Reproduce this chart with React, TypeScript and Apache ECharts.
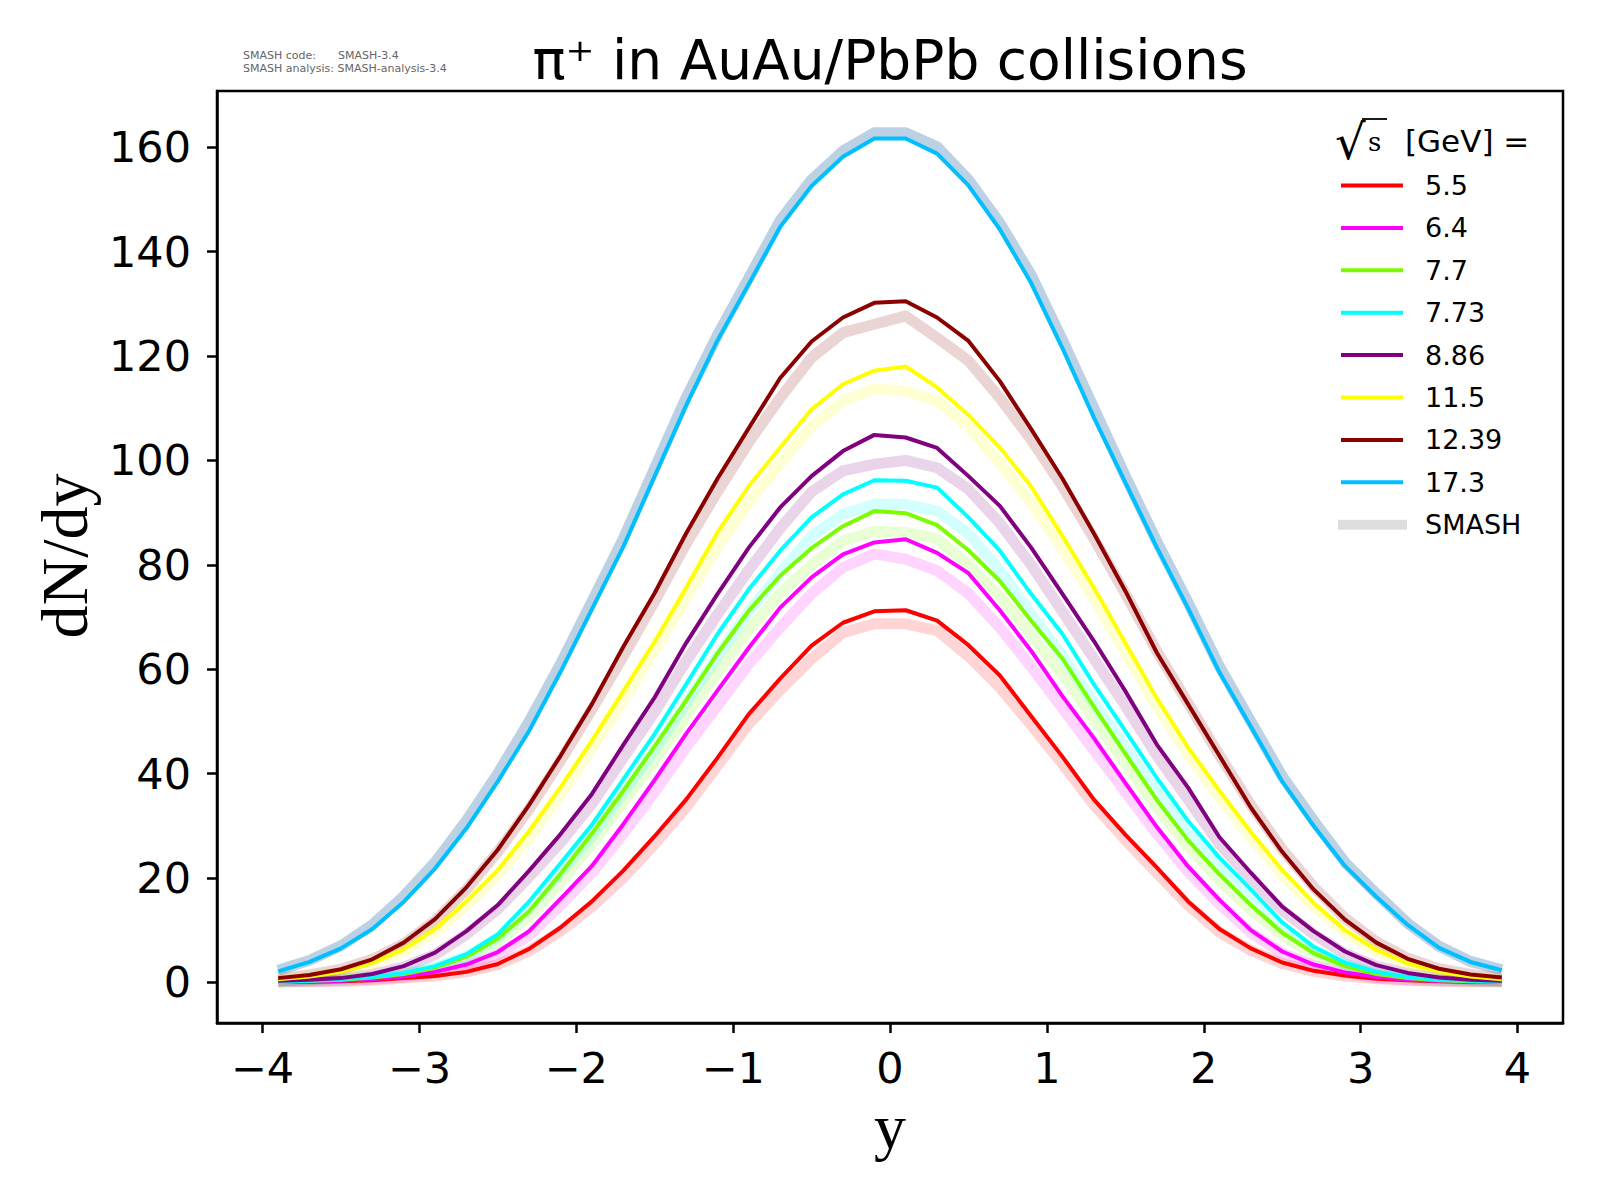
import React, { useEffect, useRef } from "react";
import * as echarts from "echarts";

// rapidity bin centres
const rapidity = [
  -3.9, -3.7, -3.5, -3.3, -3.1, -2.9, -2.7, -2.5, -2.3, -2.1,
  -1.9, -1.7, -1.5, -1.3, -1.1, -0.9, -0.7, -0.5, -0.3, -0.1,
  0.1, 0.3, 0.5, 0.7, 0.9, 1.1, 1.3, 1.5, 1.7, 1.9,
  2.1, 2.3, 2.5, 2.7, 2.9, 3.1, 3.3, 3.5, 3.7, 3.9,
];

const energies = ["5.5", "6.4", "7.7", "7.73", "8.86", "11.5", "12.39", "17.3"];
const lineColors = ["#ff0000", "#ff00ff", "#7cfc00", "#00ffff", "#800080", "#ffff00", "#8b0000", "#00bfff"];
const bandColors = [
  "rgba(255,0,0,0.17)",
  "rgba(255,0,255,0.17)",
  "rgba(124,252,0,0.17)",
  "rgba(0,255,255,0.17)",
  "rgba(128,0,128,0.17)",
  "rgba(255,255,0,0.17)",
  "rgba(139,0,0,0.17)",
  "rgba(70,130,180,0.36)",
];

// experimental dN/dy
const data55 = [
  0.1, 0.1, 0.2, 0.4, 0.8, 1.2, 2.0, 3.5, 6.4, 10.5,
  15.5, 21.4, 28.0, 35.0, 43.0, 51.4, 58.2, 64.5, 68.9, 71.1,
  71.3, 69.3, 64.6, 58.8, 51.0, 43.2, 35.0, 28.3, 22.0, 15.5,
  10.2, 6.5, 3.8, 2.2, 1.3, 0.7, 0.4, 0.2, 0.1, 0.1,
];
const data64 = [
  0.1, 0.2, 0.3, 0.6, 1.1, 2.0, 3.4, 5.8, 9.8, 16.0,
  22.3, 30.3, 38.8, 47.6, 55.9, 64.1, 71.8, 77.6, 82.0, 84.3,
  84.9, 82.3, 78.4, 71.3, 63.5, 54.8, 46.8, 38.2, 29.8, 22.2,
  15.8, 10.0, 5.9, 3.4, 1.9, 1.0, 0.5, 0.3, 0.2, 0.1,
];
const data77 = [
  0.1, 0.3, 0.5, 0.9, 1.6, 2.8, 4.9, 8.4, 13.6, 20.8,
  28.5, 36.7, 45.2, 54.0, 63.0, 71.2, 77.9, 83.2, 87.4, 90.3,
  89.9, 87.6, 82.8, 76.9, 69.3, 62.0, 52.8, 43.8, 35.0, 27.2,
  20.7, 14.8, 9.5, 5.6, 3.1, 1.6, 0.8, 0.4, 0.2, 0.1,
];
const data773 = [
  0.1, 0.3, 0.6, 1.0, 1.8, 3.1, 5.4, 9.2, 15.5, 22.8,
  30.2, 38.9, 47.6, 57.1, 66.7, 75.3, 82.7, 89.1, 93.5, 96.2,
  96.1, 94.8, 89.1, 82.7, 74.4, 66.7, 57.1, 48.2, 39.2, 30.9,
  23.9, 17.8, 11.5, 6.8, 3.8, 2.0, 1.0, 0.5, 0.3, 0.2,
];
const data886 = [
  0.3, 0.5, 0.8, 1.6, 3.1, 5.7, 9.8, 14.8, 21.4, 28.4,
  36.1, 45.5, 54.6, 65.0, 74.4, 83.3, 91.0, 97.0, 101.8, 104.9,
  104.4, 102.4, 97.0, 91.3, 83.3, 74.4, 65.4, 55.8, 45.6, 37.3,
  27.8, 21.0, 14.5, 9.8, 5.9, 3.3, 1.8, 0.9, 0.5, 0.3,
];
const data115 = [
  0.6, 1.1, 2.0, 3.7, 6.3, 10.2, 15.5, 21.5, 29.0, 37.4,
  46.3, 55.8, 65.3, 75.6, 86.2, 95.1, 102.5, 109.8, 114.6, 117.2,
  118.0, 114.0, 108.7, 102.5, 95.0, 85.5, 75.6, 65.0, 54.5, 45.0,
  36.7, 28.8, 21.5, 15.2, 10.0, 6.2, 3.6, 2.0, 1.1, 0.6,
];
const data1239 = [
  0.8, 1.4, 2.5, 4.4, 7.6, 12.1, 18.2, 25.4, 34.0, 43.4,
  53.3, 64.3, 74.6, 86.0, 96.5, 106.2, 115.8, 122.8, 127.4, 130.2,
  130.5, 127.4, 122.9, 115.2, 106.0, 96.5, 86.0, 75.0, 63.2, 53.3,
  43.4, 33.5, 25.0, 17.8, 12.0, 7.6, 4.5, 2.6, 1.5, 0.9,
];
const data173 = [
  2.1, 3.9, 6.5, 10.2, 15.4, 21.8, 29.5, 38.5, 48.2, 59.5,
  71.5, 83.5, 97.0, 110.5, 123.0, 133.8, 144.8, 152.6, 158.2, 161.7,
  161.7, 158.8, 152.7, 144.3, 134.0, 121.5, 108.2, 95.8, 83.4, 71.7,
  59.4, 49.0, 38.5, 30.0, 22.3, 16.4, 11.0, 6.6, 3.9, 2.3,
];

// SMASH model dN/dy
const smash55 = [
  0.1, 0.1, 0.2, 0.4, 0.8, 1.2, 2.0, 3.4, 6.0, 9.8,
  14.5, 20.0, 26.5, 33.5, 41.5, 49.5, 56.0, 62.0, 67.0, 68.7,
  68.7, 67.4, 62.5, 56.5, 49.3, 41.8, 34.0, 27.3, 21.0, 14.8,
  9.6, 6.1, 3.6, 2.1, 1.2, 0.7, 0.4, 0.2, 0.1, 0.1,
];
const smash64 = [
  0.1, 0.2, 0.3, 0.6, 1.0, 1.8, 3.1, 5.3, 9.0, 14.8,
  21.0, 28.5, 36.5, 45.0, 53.0, 61.0, 68.0, 74.5, 79.5, 82.1,
  81.1, 78.9, 74.5, 68.0, 60.5, 52.5, 44.5, 36.5, 28.5, 21.2,
  15.0, 9.5, 5.6, 3.2, 1.8, 0.9, 0.5, 0.3, 0.2, 0.1,
];
const smash77 = [
  0.1, 0.3, 0.5, 0.9, 1.5, 2.6, 4.5, 7.8, 12.6, 19.2,
  26.5, 34.5, 42.5, 51.0, 59.5, 67.5, 74.5, 80.0, 84.6, 86.4,
  86.2, 85.0, 80.0, 74.0, 66.5, 59.0, 50.5, 42.0, 33.5, 26.0,
  19.5, 13.9, 9.0, 5.3, 3.0, 1.5, 0.8, 0.4, 0.2, 0.1,
];
const smash773 = [
  0.1, 0.3, 0.6, 1.0, 1.7, 2.9, 5.0, 8.5, 14.2, 21.0,
  28.0, 36.3, 44.5, 53.5, 62.5, 71.0, 78.5, 85.5, 89.7, 91.6,
  91.6, 90.3, 86.0, 79.0, 70.5, 62.5, 53.5, 45.0, 36.5, 28.5,
  22.0, 16.2, 10.6, 6.3, 3.5, 1.9, 1.0, 0.5, 0.3, 0.2,
];
const smash886 = [
  0.3, 0.5, 0.8, 1.5, 2.9, 5.3, 9.2, 14.0, 20.2, 26.8,
  34.2, 43.0, 51.8, 61.5, 70.5, 79.0, 87.0, 94.0, 98.0, 99.3,
  100.0, 98.6, 94.5, 88.0, 80.0, 71.0, 62.0, 53.0, 43.5, 35.0,
  26.5, 19.8, 13.8, 9.2, 5.5, 3.1, 1.7, 0.9, 0.5, 0.3,
];
const smash115 = [
  0.6, 1.1, 1.9, 3.5, 6.0, 9.7, 14.8, 20.6, 27.8, 36.0,
  44.8, 54.0, 63.6, 73.5, 83.5, 92.0, 99.5, 106.5, 111.4, 113.7,
  113.3, 111.4, 106.5, 99.5, 92.0, 83.0, 73.5, 63.2, 53.0, 43.7,
  35.5, 27.7, 20.6, 14.6, 9.6, 6.0, 3.5, 1.9, 1.1, 0.6,
];
const smash1239 = [
  0.8, 1.4, 2.5, 4.4, 7.4, 11.8, 17.8, 25.0, 33.2, 42.5,
  52.3, 62.5, 73.0, 84.0, 94.0, 103.5, 112.0, 119.7, 124.5, 126.1,
  127.7, 123.5, 119.1, 112.0, 104.0, 95.0, 85.0, 74.5, 63.5, 53.5,
  43.5, 34.0, 25.5, 18.3, 12.3, 7.8, 4.6, 2.6, 1.5, 0.9,
];
const smash173 = [
  2.3, 4.2, 7.0, 11.0, 16.5, 23.0, 31.0, 40.0, 50.0, 61.0,
  73.0, 85.0, 98.5, 112.0, 124.0, 135.0, 146.0, 153.8, 159.3, 162.8,
  162.8, 160.1, 153.8, 145.5, 135.5, 123.0, 110.0, 97.0, 84.5, 72.8,
  60.5, 50.0, 39.5, 31.0, 23.0, 17.0, 11.3, 6.9, 4.0, 2.4,
];

const dataSets = [data55, data64, data77, data773, data886, data115, data1239, data173];
const smashSets = [smash55, smash64, smash77, smash773, smash886, smash115, smash1239, smash173];

const xTicks = [-4, -3, -2, -1, 0, 1, 2, 3, 4];
const yTicks = [0, 20, 40, 60, 80, 100, 120, 140, 160];

const titleText = "π⁺ in AuAu/PbPb collisions";
const xName = "y";
const yName = "dN/dy";
const smashInfo1a = "SMASH code:";
const smashInfo1b = "SMASH-3.4";
const smashInfo2 = "SMASH analysis: SMASH-analysis-3.4";
const legendModel = "SMASH";

const fmt = (v: number) => (v < 0 ? "\u2212" + Math.abs(v) : String(v));

export default function App() {
  const ref = useRef<HTMLDivElement>(null);

  useEffect(() => {
    if (!ref.current) return;
    const chart = echarts.init(ref.current, null, { renderer: "svg" });

    const pairs = (vals: number[]) => rapidity.map((x, i) => [x, vals[i]]);

    const bandSeries = smashSets.map((vals, i) => ({
      type: "line",
      name: "SMASH " + energies[i],
      data: pairs(vals),
      showSymbol: false,
      symbol: "none",
      silent: true,
      z: 2,
      lineStyle: { color: bandColors[i], width: 11, join: "round", cap: "butt" },
    }));
    const lineSeries = dataSets.map((vals, i) => ({
      type: "line",
      name: energies[i],
      data: pairs(vals),
      showSymbol: false,
      symbol: "none",
      silent: true,
      z: 3,
      lineStyle: { color: lineColors[i], width: 4, join: "round", cap: "butt" },
    }));

    const legendX0 = 1341;
    const legendX1 = 1403;
    const legendTextX = 1425;
    const rowY0 = 185.5;
    const rowStep = 42.4;

    const legendItems: any[] = [];
    energies.forEach((e, i) => {
      const y = rowY0 + rowStep * i;
      legendItems.push({
        type: "line",
        shape: { x1: legendX0, y1: y, x2: legendX1, y2: y },
        style: { stroke: lineColors[i], lineWidth: 4 },
      });
      legendItems.push({
        type: "text",
        x: legendTextX,
        y,
        style: {
          text: e,
          fontSize: 27,
          fontFamily: "DejaVu Sans",
          fill: "#000",
          align: "left",
          verticalAlign: "middle",
        },
      });
    });
    const smashRowY = rowY0 + rowStep * energies.length;
    legendItems.push({
      type: "rect",
      shape: { x: 1338, y: smashRowY - 5, width: 69, height: 10 },
      style: { fill: "#dedede" },
    });
    legendItems.push({
      type: "text",
      x: legendTextX,
      y: smashRowY,
      style: {
        text: legendModel,
        fontSize: 27,
        fontFamily: "DejaVu Sans",
        fill: "#000",
        align: "left",
        verticalAlign: "middle",
      },
    });
    // legend header: sqrt(s) [GeV] =
    legendItems.push({
      type: "text",
      x: 1335,
      y: 142,
      style: {
        text: "√",
        fontSize: 48,
        fontFamily: "DejaVu Serif",
        fill: "#000",
        align: "left",
        verticalAlign: "middle",
      },
    });
    legendItems.push({
      type: "line",
      shape: { x1: 1362, y1: 119, x2: 1387, y2: 119 },
      style: { stroke: "#000", lineWidth: 1.8 },
    });
    legendItems.push({
      type: "text",
      x: 1368,
      y: 142,
      style: {
        text: "s",
        fontSize: 26,
        fontFamily: "DejaVu Serif",
        fill: "#000",
        align: "left",
        verticalAlign: "middle",
      },
    });
    legendItems.push({
      type: "text",
      x: 1405,
      y: 141,
      style: {
        text: "[GeV] =",
        fontSize: 31,
        fontFamily: "DejaVu Sans",
        fill: "#000",
        align: "left",
        verticalAlign: "middle",
      },
    });

    const option: any = {
      animation: false,
      backgroundColor: "#ffffff",
      grid: {
        left: 217,
        top: 91,
        width: 1346,
        height: 932,
        show: true,
        borderColor: "#000",
        borderWidth: 2.5,
        backgroundColor: "transparent",
      },
      xAxis: {
        type: "value",
        min: -4.29,
        max: 4.29,
        splitLine: { show: false },
        axisLine: { show: true, onZero: false, lineStyle: { color: "#000", width: 2.5 } },
        axisTick: {
          show: true,
          inside: false,
          length: 10,
          customValues: xTicks,
          lineStyle: { color: "#000", width: 2.5 },
        },
        axisLabel: {
          customValues: xTicks,
          formatter: (v: number) => fmt(v),
          fontSize: 43,
          fontFamily: "DejaVu Sans",
          color: "#000",
          margin: 23,
        },
      },
      yAxis: {
        type: "value",
        min: -7.8,
        max: 170.8,
        splitLine: { show: false },
        axisLine: { show: true, onZero: false, lineStyle: { color: "#000", width: 2.5 } },
        axisTick: {
          show: true,
          inside: false,
          length: 10,
          customValues: yTicks,
          lineStyle: { color: "#000", width: 2.5 },
        },
        axisLabel: {
          customValues: yTicks,
          formatter: (v: number) => fmt(v),
          fontSize: 43,
          fontFamily: "DejaVu Sans",
          color: "#000",
          margin: 26,
        },
      },
      series: [...bandSeries, ...lineSeries],
      graphic: [
        {
          type: "text",
          x: 890,
          y: 60,
          style: {
            text: titleText,
            fontSize: 55,
            fontFamily: "DejaVu Sans",
            fill: "#000",
            align: "center",
            verticalAlign: "middle",
          },
        },
        {
          type: "text",
          x: 243,
          y: 55,
          style: { text: smashInfo1a, fontSize: 11, fontFamily: "DejaVu Sans", fill: "#666666", align: "left", verticalAlign: "middle" },
        },
        {
          type: "text",
          x: 338,
          y: 55,
          style: { text: smashInfo1b, fontSize: 11, fontFamily: "DejaVu Sans", fill: "#666666", align: "left", verticalAlign: "middle" },
        },
        {
          type: "text",
          x: 243,
          y: 68,
          style: { text: smashInfo2, fontSize: 11, fontFamily: "DejaVu Sans", fill: "#666666", align: "left", verticalAlign: "middle" },
        },
        {
          type: "text",
          x: 890,
          y: 1126,
          style: {
            text: xName,
            fontSize: 64,
            fontFamily: "Liberation Serif",
            fill: "#000",
            align: "center",
            verticalAlign: "middle",
          },
        },
        {
          type: "text",
          x: 64,
          y: 556,
          rotation: Math.PI / 2,
          style: {
            text: yName,
            fontSize: 66,
            fontFamily: "Liberation Serif",
            fill: "#000",
            align: "center",
            verticalAlign: "middle",
          },
        },
        ...legendItems,
      ],
    };

    chart.setOption(option);
    return () => chart.dispose();
  }, []);

  return (
    <div
      ref={ref}
      style={{ position: "absolute", left: 0, top: 0, width: 1600, height: 1200, background: "#fff" }}
    />
  );
}
